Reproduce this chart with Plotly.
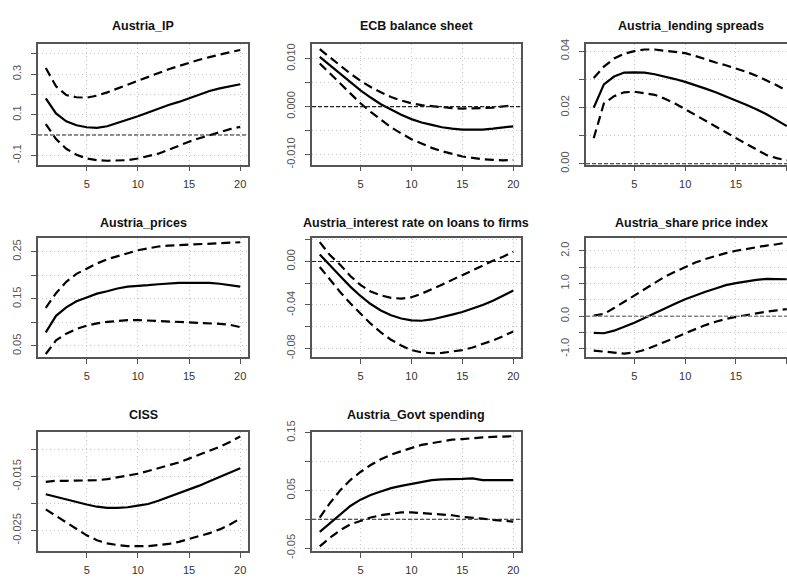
import plotly.graph_objects as go

W, H = 787, 587

horizon = list(range(1, 21))

titles = ["Austria_IP", "ECB balance sheet", "Austria_lending spreads",
          "Austria_prices", "Austria_interest rate on loans to firms", "Austria_share price index",
          "CISS", "Austria_Govt spending"]

ip_med = [0.18, 0.106, 0.067, 0.048, 0.038, 0.035, 0.043, 0.059, 0.075, 0.092,
          0.111, 0.13, 0.148, 0.163, 0.18, 0.2, 0.217, 0.23, 0.241, 0.25]
ip_up = [0.33, 0.24, 0.197, 0.186, 0.184, 0.194, 0.21, 0.229, 0.249, 0.27,
         0.289, 0.308, 0.324, 0.34, 0.356, 0.371, 0.384, 0.397, 0.408, 0.419]
ip_lo = [0.054, -0.02, -0.068, -0.097, -0.116, -0.124, -0.127, -0.127, -0.124, -0.116,
         -0.105, -0.092, -0.073, -0.052, -0.033, -0.016, 0.0, 0.016, 0.029, 0.04]

ecb_med = [0.0104, 0.0086, 0.0068, 0.005, 0.0034, 0.0019, 0.0005, -0.0006, -0.0017, -0.0026,
           -0.0033, -0.0038, -0.0043, -0.0046, -0.0048, -0.0048, -0.0048, -0.0046, -0.0044, -0.0041]
ecb_up = [0.012, 0.0103, 0.0086, 0.0069, 0.0054, 0.0041, 0.003, 0.002, 0.0013, 0.0007,
          0.0003, 0.0001, -0.0002, -0.0003, -0.0004, -0.0004, -0.0003, -0.0002, 0.0, 0.0003]
ecb_lo = [0.009, 0.0069, 0.0048, 0.0028, 0.0007, -0.0011, -0.0028, -0.0043, -0.0056, -0.0068,
          -0.0077, -0.0086, -0.0093, -0.0099, -0.0104, -0.0107, -0.011, -0.0111, -0.0112, -0.0111]

ls_med = [0.0199, 0.0282, 0.031, 0.0324, 0.0325, 0.0324, 0.0318, 0.031, 0.0301, 0.0291,
          0.028, 0.0267, 0.0254, 0.024, 0.0225, 0.021, 0.0194, 0.0176, 0.0155, 0.0134]
ls_up = [0.0305, 0.0345, 0.0374, 0.0391, 0.04, 0.0406, 0.0406, 0.0402, 0.0399, 0.0393,
         0.0383, 0.0371, 0.036, 0.035, 0.0339, 0.0327, 0.0313, 0.0297, 0.0279, 0.0259]
ls_lo = [0.0091, 0.0214, 0.024, 0.0254, 0.0256, 0.0251, 0.0245, 0.0231, 0.0214, 0.0194,
         0.0174, 0.0153, 0.0133, 0.0112, 0.0091, 0.0071, 0.005, 0.0031, 0.002, 0.0012]

pr_med = [0.079, 0.114, 0.132, 0.145, 0.153, 0.161, 0.166, 0.172, 0.176, 0.177,
          0.179, 0.181, 0.183, 0.184, 0.184, 0.184, 0.184, 0.182, 0.179, 0.176]
pr_up = [0.131, 0.162, 0.186, 0.203, 0.214, 0.225, 0.234, 0.24, 0.247, 0.253,
         0.257, 0.261, 0.263, 0.264, 0.265, 0.266, 0.268, 0.268, 0.269, 0.27]
pr_lo = [0.033, 0.062, 0.076, 0.086, 0.093, 0.098, 0.101, 0.103, 0.105, 0.105,
         0.104, 0.103, 0.102, 0.101, 0.1, 0.099, 0.099, 0.097, 0.095, 0.09]

ir_med = [0.0065, -0.003, -0.0133, -0.0231, -0.0317, -0.0391, -0.045, -0.0495, -0.0524, -0.0542,
          -0.0545, -0.0533, -0.0513, -0.0489, -0.0465, -0.0436, -0.04, -0.0361, -0.0317, -0.0267]
ir_up = [0.0178, 0.0059, -0.003, -0.0133, -0.0216, -0.0276, -0.0311, -0.0335, -0.0341, -0.0329,
         -0.0296, -0.0258, -0.0213, -0.0169, -0.0124, -0.008, -0.0039, 0.0006, 0.0044, 0.0089]
ir_lo = [-0.005, -0.0169, -0.0281, -0.0385, -0.0483, -0.0572, -0.0652, -0.072, -0.0773, -0.0815,
         -0.0836, -0.0844, -0.0841, -0.083, -0.0815, -0.0791, -0.0761, -0.0726, -0.0687, -0.0643]

sp_med = [-0.51, -0.52, -0.44, -0.32, -0.2, -0.05, 0.1, 0.25, 0.38, 0.52,
          0.64, 0.75, 0.85, 0.95, 1.01, 1.07, 1.11, 1.14, 1.14, 1.13]
sp_up = [0.02, 0.07, 0.25, 0.44, 0.64, 0.83, 1.03, 1.21, 1.36, 1.5,
         1.64, 1.75, 1.85, 1.93, 2.0, 2.06, 2.11, 2.16, 2.2, 2.25]
sp_lo = [-1.05, -1.07, -1.11, -1.14, -1.11, -1.03, -0.91, -0.78, -0.66, -0.52,
         -0.39, -0.27, -0.17, -0.08, -0.02, 0.04, 0.09, 0.14, 0.18, 0.22]

ciss_med = [-0.0183, -0.0188, -0.0192, -0.0198, -0.0202, -0.0206, -0.0208, -0.0208, -0.0207, -0.0204,
            -0.0201, -0.0195, -0.0188, -0.0182, -0.0174, -0.0167, -0.0159, -0.0151, -0.0143, -0.0135]
ciss_up = [-0.016, -0.0158, -0.0158, -0.0158, -0.0157, -0.0157, -0.0155, -0.0152, -0.0149, -0.0145,
           -0.014, -0.0135, -0.013, -0.0124, -0.0117, -0.011, -0.0103, -0.0095, -0.0086, -0.0076]
ciss_lo = [-0.0211, -0.0223, -0.0236, -0.0248, -0.0259, -0.0268, -0.0274, -0.0277, -0.0279, -0.0279,
           -0.0279, -0.0277, -0.0275, -0.0271, -0.0266, -0.0261, -0.0255, -0.0248, -0.0239, -0.0228]

gs_med = [-0.022, -0.007, 0.009, 0.023, 0.034, 0.042, 0.048, 0.054, 0.058, 0.061,
          0.065, 0.068, 0.069, 0.069, 0.07, 0.071, 0.068, 0.068, 0.068, 0.068]
gs_up = [0.003, 0.028, 0.05, 0.068, 0.082, 0.094, 0.104, 0.112, 0.118, 0.124,
         0.129, 0.132, 0.135, 0.138, 0.139, 0.141, 0.142, 0.143, 0.143, 0.144]
gs_lo = [-0.047, -0.032, -0.019, -0.009, -0.003, 0.003, 0.007, 0.01, 0.012, 0.012,
         0.011, 0.01, 0.008, 0.007, 0.004, 0.003, 0.001, -0.001, -0.003, -0.004]

series = [(ip_med, ip_up, ip_lo), (ecb_med, ecb_up, ecb_lo), (ls_med, ls_up, ls_lo),
          (pr_med, pr_up, pr_lo), (ir_med, ir_up, ir_lo), (sp_med, sp_up, sp_lo),
          (ciss_med, ciss_up, ciss_lo), (gs_med, gs_up, gs_lo)]

y_ranges = [[-0.146, 0.449], [-0.0121, 0.0131], [-0.0003, 0.0426],
            [0.027, 0.279], [-0.0877, 0.0216], [-1.24, 2.39],
            [-0.0288, -0.0068], [-0.055, 0.151]]
y_ticks = [[-0.1, 0, 0.1, 0.2, 0.3, 0.4], [-0.01, -0.005, 0, 0.005, 0.01], [0, 0.01, 0.02, 0.03, 0.04],
           [0.05, 0.10, 0.15, 0.20, 0.25], [-0.08, -0.06, -0.04, -0.02, 0, 0.02], [-1, -0.5, 0, 0.5, 1, 1.5, 2],
           [-0.025, -0.02, -0.015, -0.01], [-0.05, 0, 0.05, 0.1, 0.15]]
y_labels = [["-0.1", "", "0.1", "", "0.3", ""], ["-0.010", "", "0.000", "", "0.010"], ["0.00", "", "0.02", "", "0.04"],
            ["0.05", "", "0.15", "", "0.25"], ["-0.08", "", "-0.04", "", "0.00", ""], ["-1.0", "", "0.0", "", "1.0", "", "2.0"],
            ["-0.025", "", "-0.015", ""], ["-0.05", "", "0.05", "", "0.15"]]
zero_line = [True, True, True, False, True, True, False, True]
x_ticks = [5, 10, 15, 20]

# layout geometry (pixels)
col_px = [(38, 248), (312, 521), (586, 787)]
row_px = [(33, 158), (234, 357), (435, 558)]
title_y_px = [15, 218, 417]
title_x_px = [143, 416, 691]

fig = go.Figure()
layout = dict(width=W, height=H, margin=dict(l=0, r=0, t=0, b=0),
              paper_bgcolor="white", plot_bgcolor="white", showlegend=False,
              font=dict(family="Liberation Sans, Arial", color="#333"))
shapes = []
annotations = []

for i, (med, up, lo) in enumerate(series):
    r, c = divmod(i, 3)
    k = i + 1
    xa = "x" if k == 1 else f"x{k}"
    ya = "y" if k == 1 else f"y{k}"
    x0p, x1p = col_px[c]
    y0p, y1p = row_px[r]
    xr = [0.24, 20.76] if c < 2 else [0.24, 20.02]
    for vals, dash in ((up, "9px,5px"), (med, "solid"), (lo, "9px,5px")):
        fig.add_trace(go.Scatter(x=horizon, y=vals, mode="lines", xaxis=xa, yaxis=ya,
                                 line=dict(color="black", width=2.2, dash=dash),
                                 hoverinfo="skip"))
    layout[f"xaxis{k}"] = dict(domain=[x0p / W, x1p / W], anchor=ya, range=xr,
                               tickvals=x_ticks, ticktext=[str(v) for v in x_ticks],
                               ticks="outside", ticklen=5, tickcolor="#555", tickwidth=1,
                               showline=True, mirror=True, linecolor="#555", linewidth=1.5,
                               showgrid=True, gridcolor="#c8c8c8", griddash="1px,3px", gridwidth=1.3,
                               zeroline=False, ticklabelstandoff=3,
                               tickfont=dict(size=11, color="#333"))
    layout[f"yaxis{k}"] = dict(domain=[1 - y1p / H, 1 - y0p / H], anchor=xa, range=y_ranges[i],
                               tickvals=y_ticks[i], ticktext=y_labels[i], tickangle=-90,
                               ticks="outside", ticklen=5, tickcolor="#555", tickwidth=1,
                               showline=True, mirror=(c < 2), linecolor="#555", linewidth=1.5,
                               showgrid=True, gridcolor="#c8c8c8", griddash="1px,3px", gridwidth=1.3,
                               zeroline=False, ticklabelstandoff=6,
                               tickfont=dict(size=11, color="#555"))
    if zero_line[i]:
        shapes.append(dict(type="line", xref=f"{xa} domain", yref=ya, x0=0, x1=1, y0=0, y1=0,
                           line=dict(color="#888" if i == 5 else "#222", width=1.5 if i == 5 else 1.2,
                                     dash="4px,2px")))
    annotations.append(dict(text=f"<b>{titles[i]}</b>", xref="paper", yref="paper",
                            x=title_x_px[c] / W, y=1 - title_y_px[r] / H,
                            xanchor="center", yanchor="middle", showarrow=False,
                            font=dict(size=12.5, color="#111", family="Liberation Sans, Arial")))

layout["shapes"] = shapes
layout["annotations"] = annotations
fig.update_layout(**layout)
fig.write_html("out.html")
